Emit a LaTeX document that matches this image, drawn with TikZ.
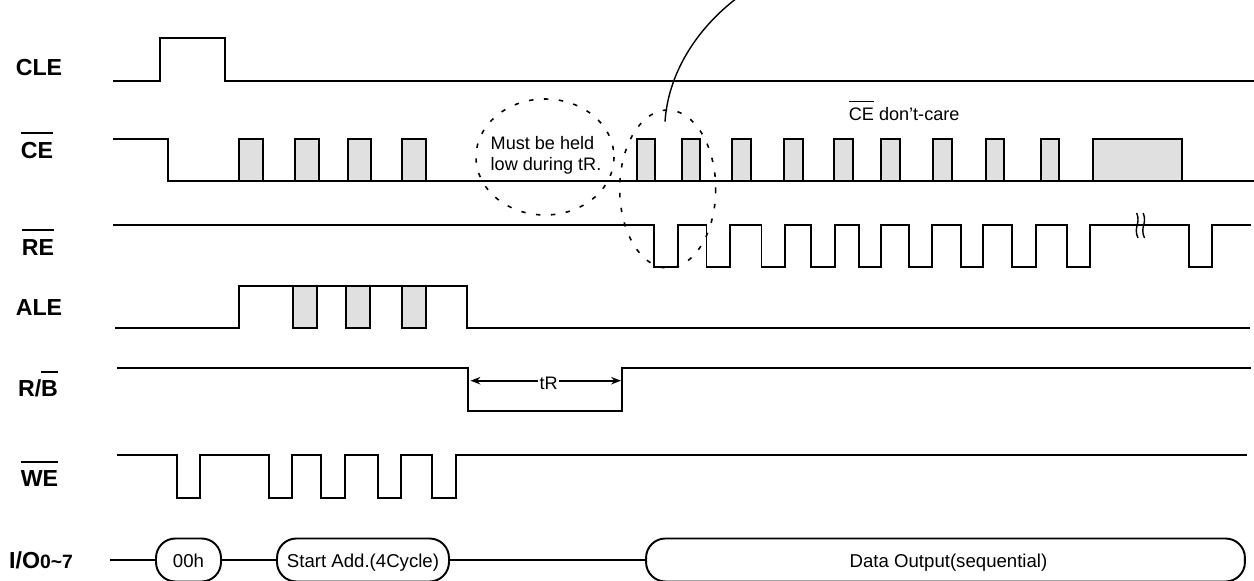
\documentclass[tikz,border=0pt]{standalone}
\usepackage{fontspec}
\usetikzlibrary{arrows.meta}
\setmainfont{Liberation Sans}
\newcommand{\barred}[3]{\leavevmode\vbox{\hrule height #1 \kern #2 \hbox{#3}}}
\tikzset{
    wave/.style={line width=1.1pt},
    pulse/.style={line width=1.1pt, fill=black!12},
    hold/.style={line width=0.9pt, dash pattern=on 2.5pt off 6pt},
    signal/.style={font=\fontsize{13.2}{15}\selectfont\bfseries, anchor=base, inner sep=0pt},
    note/.style={font=\fontsize{10.3}{11.7}\selectfont, inner sep=0pt},
    bus/.style={draw, line width=1.1pt, rounded corners=11pt, minimum height=0.86cm, inner sep=0pt, text height=9.1pt, text depth=0pt, font=\fontsize{10.6}{12}\selectfont}
}
\begin{document}
\begin{tikzpicture}[x=0.02cm, y=-0.02cm, >={Stealth[length=5.6pt,width=4.2pt]}]
            \useasboundingbox (0, 0) rectangle (1254, 581);

            \node [signal] (cle) at (39, 75.7) {CLE};
            \node [signal] (ce) at (37, 158) {\barred{1.3pt}{4.5pt}{CE}};
            \node [signal] (re) at (38, 255) {\barred{1.3pt}{4.5pt}{RE}};
            \node [signal] (ale) at (39, 315.3) {ALE};
            \node [signal] (rb) at (38, 396.7) {R/\barred{1.3pt}{4.5pt}{B}};
            \node [signal] (we) at (39.5, 486.7) {\barred{1.3pt}{4.5pt}{WE}};
            \node [signal] (io) at (41, 568.3) {I/O{\fontsize{11}{12}\selectfont 0\char`~7}};

            \draw [wave] (113, 80.7) -- (160, 80.7) -- (160, 37.7) -- (225, 37.7) -- (225, 80.7) -- (1254, 80.7);

            \draw [pulse] (238.6, 180.7) rectangle (262.8, 138.7);
            \draw [pulse] (295, 180.7) rectangle (319, 138.7);
            \draw [pulse] (348, 180.7) rectangle (371, 138.7);
            \draw [pulse] (401.8, 180.7) rectangle (425.9, 138.7);
            \draw [pulse] (637, 180.7) rectangle (655, 138.7);
            \draw [pulse] (682, 180.7) rectangle (700, 138.7);
            \draw [pulse] (732, 180.7) rectangle (751, 138.7);
            \draw [pulse] (784, 180.7) rectangle (803, 138.7);
            \draw [pulse] (834, 180.7) rectangle (853, 138.7);
            \draw [pulse] (881, 180.7) rectangle (900, 138.7);
            \draw [pulse] (933, 180.7) rectangle (952, 138.7);
            \draw [pulse] (986, 180.7) rectangle (1004, 138.7);
            \draw [pulse] (1041, 180.7) rectangle (1059, 138.7);
            \draw [pulse] (1093, 180.7) rectangle (1182, 138.7);
            \draw [wave] (113, 138.7) -- (168.3, 138.7) -- (168.3, 180.7) -- (1254, 180.7);

            \draw [wave] (113, 225) -- (654.4, 225) -- (654.4, 266.7) -- (678, 266.7) -- (678, 225)
                -- (706.5, 225) -- (706.5, 266.7) -- (730, 266.7) -- (730, 225)
                -- (761.5, 225) -- (761.5, 266.7) -- (785, 266.7) -- (785, 225)
                -- (811, 225) -- (811, 266.7) -- (835, 266.7) -- (835, 225)
                -- (858.6, 225) -- (858.6, 266.7) -- (881, 266.7) -- (881, 225)
                -- (909, 225) -- (909, 266.7) -- (932, 266.7) -- (932, 225)
                -- (961, 225) -- (961, 266.7) -- (983, 266.7) -- (983, 225)
                -- (1012, 225) -- (1012, 266.7) -- (1036, 266.7) -- (1036, 225)
                -- (1067, 225) -- (1067, 266.7) -- (1090, 266.7) -- (1090, 225)
                -- (1189, 225) -- (1189, 266.7) -- (1212, 266.7) -- (1212, 225) -- (1251, 225);
            \draw [line width=0.8pt] (1136.7, 213) .. controls (1141, 224) and (1133, 227) .. (1138, 238);
            \draw [line width=0.8pt] (1143.2, 213) .. controls (1147.5, 224) and (1139.5, 227) .. (1144.5, 238);

            \draw [pulse] (293.3, 328) rectangle (316.6, 285.7);
            \draw [pulse] (346.3, 328) rectangle (369.6, 285.7);
            \draw [pulse] (401.8, 328) rectangle (425.9, 285.7);
            \draw [wave] (115, 328) -- (239, 328) -- (239, 285.7) -- (467, 285.7) -- (467, 328) -- (1250, 328);

            \draw [wave] (117, 367.7) -- (468, 367.7) -- (468, 410.7) -- (622, 410.7) -- (622, 367.7) -- (1251, 367.7);
            \node [note, anchor=base, inner xsep=0.6pt] (tr) at (548.6, 389) {tR};
            \coordinate (trleft) at (470.5, 380.7);
            \coordinate (trright) at (621, 380.7);
            \draw [<-, line width=1pt] (trleft) -- (tr.west |- trleft);
            \draw [->, line width=1pt] (tr.east |- trright) -- (trright);

            \draw [wave] (117, 454.7) -- (176.8, 454.7) -- (176.8, 497.7) -- (199.7, 497.7) -- (199.7, 454.7)
                -- (269, 454.7) -- (269, 497.7) -- (292, 497.7) -- (292, 454.7)
                -- (321.4, 454.7) -- (321.4, 497.7) -- (344.7, 497.7) -- (344.7, 454.7)
                -- (378, 454.7) -- (378, 497.7) -- (401, 497.7) -- (401, 454.7)
                -- (432.3, 454.7) -- (432.3, 497.7) -- (455.6, 497.7) -- (455.6, 454.7) -- (1247, 454.7);

            \coordinate (iostart) at (110, 560);
            \node [bus, minimum width=1.3cm] (cmd) at (188.5, 560) {00h};
            \node [bus, minimum width=3.44cm] (addr) at (363, 560) {Start Add.(4Cycle)};
            \node [bus, minimum width=11.98cm] (data) at (945.5, 560) {\hspace*{3.4pt}Data Output(sequential)};
            \draw [wave] (iostart) -- (cmd.west);
            \draw [wave] (cmd.east) -- (addr.west);
            \draw [wave] (addr.east) -- (data.west);

            \draw [hold] (545, 157) ellipse [x radius=69, y radius=58];
            \draw [hold] (667.7, 189) ellipse [x radius=48, y radius=79];
            \node [note, align=left] (hold) at (546, 155.5) {Must be held\\low during tR.};
            \node [note, anchor=base west] (dontcare) at (848.5, 120.7) {\barred{0.7pt}{3.5pt}{CE} don’t-care};
            \draw [line width=0.8pt] (665, 121.7) .. controls (668, 75) and (695, 30) .. (737, -2);
        \end{tikzpicture}
\end{document}
